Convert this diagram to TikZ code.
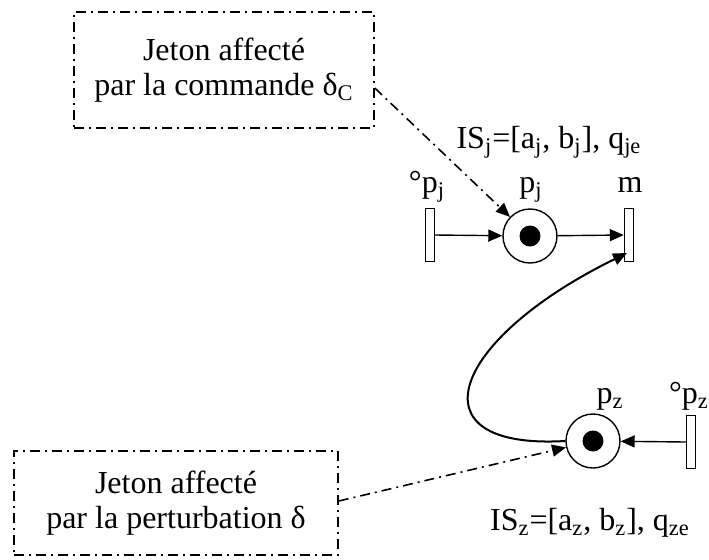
\documentclass[tikz,border=0pt]{standalone}
\usepackage{fontspec}
\setmainfont{Liberation Serif}
\usetikzlibrary{arrows.meta}
\newcommand{\sbs}[1]{\textsubscript{#1}}
\begin{document}
\begin{tikzpicture}[x=0.5pt,y=-0.5pt,
  every node/.style={font=\fontsize{16}{17.5}\selectfont, inner sep=0pt},
  place/.style={draw, circle, minimum size=27pt, line width=0.7pt},
  token/.style={fill=black, circle, minimum size=10.5pt},
  trans/.style={draw, rectangle, minimum width=4.5pt, minimum height=26.5pt, line width=0.7pt},
  note/.style={draw, rectangle, line width=0.8pt, align=center,
     dash pattern=on 5pt off 2.5pt on 1pt off 2.5pt},
  arc/.style={-{Triangle[length=7pt,width=6pt]}, line width=0.7pt},
  dd/.style={-{Triangle[length=7pt,width=6pt]}, line width=0.8pt,
     dash pattern=on 5pt off 2.5pt on 1pt off 2.5pt},
  lbl/.style={anchor=base}]
\useasboundingbox (0,0) rectangle (709,559);
% boxes
\node[note, minimum width=150pt, minimum height=58pt] (box1) at (224,70)
  {Jeton affecté\\par la commande δ\sbs{C}};
\node[note, minimum width=162pt, minimum height=52pt] (box2) at (176,503)
  {Jeton affecté\\par la perturbation δ};
% net j
\node[trans] (tj0) at (430,235) {};
\node[place] (pj) at (530,236) {};
\node[token] (kj) at (pj) {};
\node[trans] (m) at (629,235) {};
\node[lbl] (lpj0) at (427,192) {°p\sbs{j}};
\node[lbl] (lpj) at (531,192) {p\sbs{j}};
\node[lbl] (lm) at (630,192) {m};
\node[lbl] (isj) at (549,148) {IS\sbs{j}=[a\sbs{j}, b\sbs{j}], q\sbs{je}};
% net z
\node[place] (pz) at (593,441) {};
\node[token] (kz) at (pz) {};
\node[trans] (tz0) at (691,442) {};
\node[lbl] (lpz) at (610,403) {p\sbs{z}};
\node[lbl] (lpz0) at (689,403) {°p\sbs{z}};
\node[lbl] (isz) at (590,530) {IS\sbs{z}=[a\sbs{z}, b\sbs{z}], q\sbs{ze}};
% arcs
\draw[arc] (tj0.east) -- (pj);
\draw[arc] (pj) -- (m.west);
\draw[arc] (tz0.west) -- (pz);
\coordinate (mend) at (627,253);
\draw[arc, line width=1pt] (pz.west) .. controls (410,450) and (450,340) .. (mend);
% dash-dot pointers
\draw[dd] ([yshift=-9pt]box1.east) -- (pj);
\draw[dd] ([yshift=1pt]box2.east) -- (pz);
\end{tikzpicture}
\end{document}
